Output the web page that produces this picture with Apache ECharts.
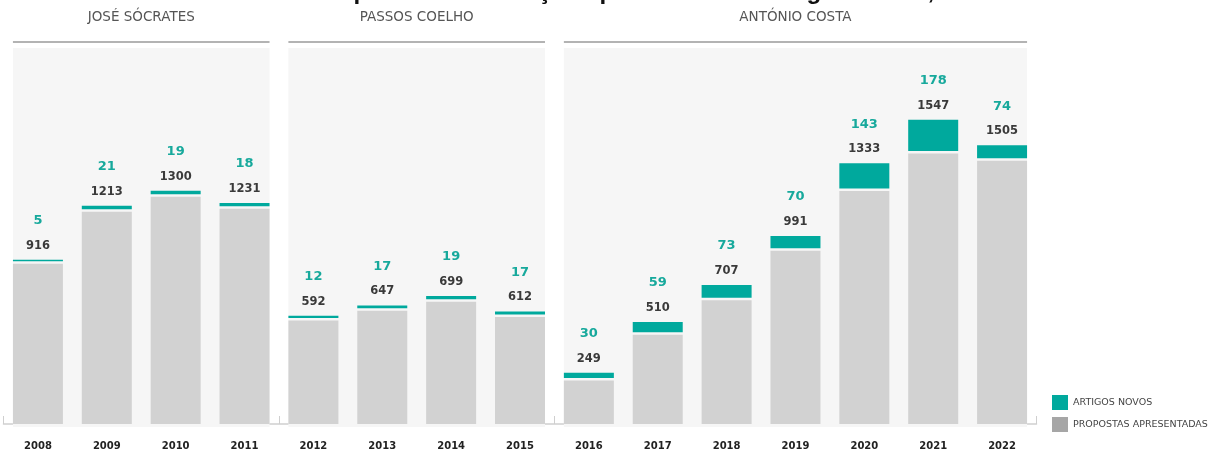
<!DOCTYPE html>
<html>
<head>
<meta charset="utf-8">
<script src="https://cdn.jsdelivr.net/npm/echarts@6/dist/echarts.min.js"></script>
<style>
  html, body { margin: 0; padding: 0; background: #fff; }
  #chart { width: 1215px; height: 454px; }
</style>
</head>
<body>
<div id="chart"></div>
<script>
// Years on the category axis
const years = ['2008','2009','2010','2011','2012','2013','2014','2015','2016','2017','2018','2019','2020','2021','2022'];
// Amendment proposals presented per year
const propostas = [916, 1213, 1300, 1231, 592, 647, 699, 612, 249, 510, 707, 991, 1333, 1547, 1505];
// New articles per year
const artigos = [5, 21, 19, 18, 12, 17, 19, 17, 30, 59, 73, 70, 143, 178, 74];
// Government periods
const groupNames = ['JOSÉ SÓCRATES', 'PASSOS COELHO', 'ANTÓNIO COSTA'];
const groupFrom = ['2008', '2012', '2016'];
const groupTo = ['2011', '2015', '2022'];

const titleText = 'Gráfico 22 – Propostas de alteração apresentadas e artigos novos, 2008–2022';
const TEAL = '#00a99d';
const GREY = '#d2d2d2';
const BAR_RATIO = 0.726;   // bar width as share of the category band
const GAP = 2.5;           // white gap between the two stacked parts
const MIN_H = 1.6;         // keep very small new-article counts visible

const chart = echarts.init(document.getElementById('chart'), null, { renderer: 'canvas' });

const groupData = groupNames.map((n, i) => [years.indexOf(groupFrom[i]), years.indexOf(groupTo[i]), 0]);
const proposalData = years.map((y, i) => [i, propostas[i]]);
const newData = years.map((y, i) => [i, propostas[i], artigos[i]]);

// Light panel, rule and name for each government period
function renderPanel(params, api) {
  const cs = params.coordSys;
  const half = api.size([1, 0])[0] * BAR_RATIO / 2;
  const x0 = api.coord([api.value(0), 0])[0] - half;
  const x1 = api.coord([api.value(1), 0])[0] + half;
  return {
    type: 'group',
    children: [
      { type: 'rect', shape: { x: x0, y: cs.y, width: x1 - x0, height: cs.height + 3 }, style: { fill: '#f6f6f6' } },
      { type: 'rect', shape: { x: x0, y: cs.y - 7, width: x1 - x0, height: 2 }, style: { fill: '#b3b3b3' } },
      { type: 'text', x: (x0 + x1) / 2, y: cs.y - 31,
        style: { text: groupNames[params.dataIndex], align: 'center', verticalAlign: 'middle',
                 fill: '#555', font: '13.5px "DejaVu Sans"' } }
    ]
  };
}

// Grey bar: proposals presented
function renderProposal(params, api) {
  const i = api.value(0);
  const base = api.coord([i, 0]);
  const top = api.coord([i, api.value(1)]);
  const w = api.size([1, 0])[0] * BAR_RATIO;
  return {
    type: 'rect',
    shape: { x: base[0] - w / 2, y: top[1], width: w, height: base[1] - top[1] },
    style: { fill: GREY }
  };
}

// Teal cap: new articles, stacked on the proposals, with both values above
function renderNew(params, api) {
  const i = api.value(0);
  const p = api.value(1);
  const a = api.value(2);
  const w = api.size([1, 0])[0] * BAR_RATIO;
  const x = api.coord([i, p])[0];
  const yP = api.coord([i, p])[1] - GAP;
  let yT = api.coord([i, p + a])[1] - GAP;
  if (yP - yT < MIN_H) yT = yP - MIN_H;
  return {
    type: 'group',
    children: [
      { type: 'rect', shape: { x: x - w / 2, y: yT, width: w, height: yP - yT }, style: { fill: TEAL } },
      { type: 'text', x: x, y: yT - 14,
        style: { text: String(p), align: 'center', verticalAlign: 'middle', fill: '#3a3a3a',
                 font: 'bold 11.5px "DejaVu Sans"' } },
      { type: 'text', x: x, y: yT - 39,
        style: { text: String(a), align: 'center', verticalAlign: 'middle', fill: '#17a99c',
                 font: 'bold 13px "DejaVu Sans"' } }
    ]
  };
}

chart.setOption({
  animation: false,
  backgroundColor: '#fff',
  graphic: [{
    type: 'text',
    x: 615,
    y: -8,
    style: { text: titleText, align: 'center', verticalAlign: 'middle', fill: '#111',
             font: 'bold 24.2px "Liberation Sans"' }
  }],
  legend: {
    orient: 'vertical',
    left: 1047,
    top: 390,
    itemWidth: 16,
    itemHeight: 15,
    itemGap: 7,
    icon: 'rect',
    textStyle: { fontFamily: 'DejaVu Sans', fontSize: 9.5, color: '#444' },
    data: [
      { name: 'ARTIGOS NOVOS', itemStyle: { color: TEAL } },
      { name: 'PROPOSTAS APRESENTADAS', itemStyle: { color: '#a6a6a6' } }
    ]
  },
  grid: { left: 3.5, right: 178.5, top: 48, bottom: 30 },
  xAxis: {
    type: 'category',
    data: years,
    offset: 4,
    axisLine: { lineStyle: { color: '#cfcfcf', width: 1.5 } },
    axisTick: { show: true, inside: true, length: 8, lineStyle: { color: '#cfcfcf' } },
    axisLabel: { margin: 13, fontFamily: 'DejaVu Sans', fontSize: 10, fontWeight: 'bold', color: '#222' }
  },
  yAxis: { type: 'value', min: 0, max: 2150, show: false, splitLine: { show: false } },
  series: [
    {
      type: 'custom',
      z: 1,
      silent: true,
      renderItem: renderPanel,
      encode: { x: [0, 1], y: 2 },
      data: groupData
    },
    {
      name: 'PROPOSTAS APRESENTADAS',
      type: 'custom',
      z: 2,
      itemStyle: { color: '#a6a6a6' },
      renderItem: renderProposal,
      encode: { x: 0, y: 1 },
      data: proposalData
    },
    {
      name: 'ARTIGOS NOVOS',
      type: 'custom',
      z: 3,
      itemStyle: { color: TEAL },
      renderItem: renderNew,
      encode: { x: 0, y: 1 },
      data: newData
    }
  ]
});
</script>
</body>
</html>
